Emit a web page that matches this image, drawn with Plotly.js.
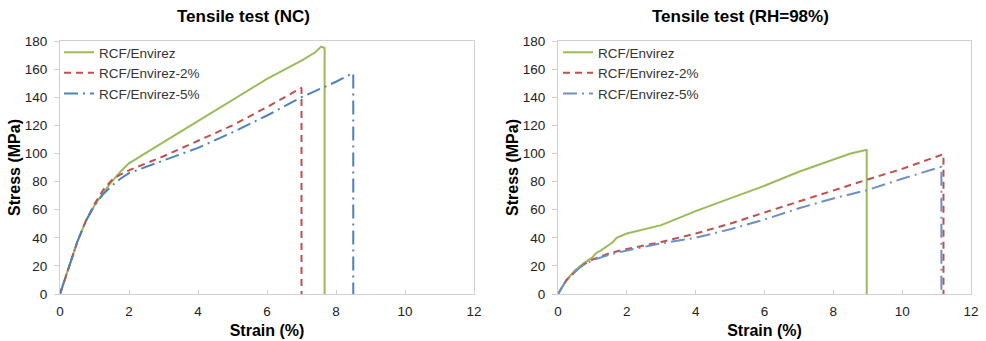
<!DOCTYPE html>
<html>
<head>
<meta charset="utf-8">
<script src="https://cdn.plot.ly/plotly-3.0.1.min.js"></script>
<style>html,body{margin:0;padding:0;background:#fff;}#chart{width:986px;height:341px;}</style>
</head>
<body>
<div id="chart"></div>
<script>
// ---- Data ----
const seriesNames = ["RCF/Envirez", "RCF/Envirez-2%", "RCF/Envirez-5%"];
const panelTitles = ["Tensile test (NC)", "Tensile test (RH=98%)"];
const xTickVals = [0, 2, 4, 6, 8, 10, 12];
const yTickVals = [0, 20, 40, 60, 80, 100, 120, 140, 160, 180];

// NC panel
const ncGreenX = [0,0.25,0.5,0.75,1,1.25,1.5,1.75,2,3,4,5,6,7,7.4,7.57,7.67,7.67];
const ncGreenY = [0,18,37,52,63,72,80,87,93,108,123,138,153,166,172,176,175,0];
const ncRedX = [0,0.25,0.5,0.75,1,1.25,1.5,1.75,2,3,4,5,6,6.5,6.99,7.0,7.0];
const ncRedY = [0,18,37,52,64,74,81,85,88,98,109,120,133,140,146.5,146,0];
const ncBlueX = [0,0.25,0.5,0.75,1,1.25,1.5,1.75,2,3,4,5,6,7,8,8.47,8.5,8.5];
const ncBlueY = [0,18,37,52,63,71,77,82,86,95,104,115,127,140,151,157,157,0];

// RH=98% panel
const rhGreenX = [0,0.25,0.5,0.75,1,1.1,1.25,1.5,1.6,1.7,1.8,2,3,4,5,6,7,8,8.5,8.95,8.97,8.97];
const rhGreenY = [0,10,17,22,26,29,31,35,37,40,41,43,49,59,68,77,87,96,100,102.5,102.5,0];
const rhRedX = [0,0.25,0.5,0.75,1,1.5,2,3,4,5,6,7,8,9,10,11.2,11.2];
const rhRedY = [0,10,16,21,24.5,29,32,37,43,50,58,66,74,81.5,89,99.5,0];
const rhBlueX = [0,0.25,0.5,0.75,1,1.5,2,3,4,5,6,7,8,9,10,11.14,11.14];
const rhBlueY = [0,10,16,21,24,28,31,36,40,46,53,61,68,74,82,90.5,0];

// ---- Styles ----
const green = "#9bbb59", red = "#c0504d", blue = "#4f81bd", blueRH = "#6f8fc4";
const dashRed = "7px,5px";
const dashBlue = "14px,5px,2px,5px";

function tr(x, y, name, color, dash, xa, ya, legend) {
  return {x: x, y: y, name: name, type: "scatter", mode: "lines",
    line: {color: color, width: 2, dash: dash},
    xaxis: xa, yaxis: ya, legend: legend};
}

const data = [
  tr(ncGreenX, ncGreenY, seriesNames[0], green, "solid", "x", "y", "legend"),
  tr(ncRedX, ncRedY, seriesNames[1], red, dashRed, "x", "y", "legend"),
  tr(ncBlueX, ncBlueY, seriesNames[2], blue, dashBlue, "x", "y", "legend"),
  tr(rhGreenX, rhGreenY, seriesNames[0], green, "solid", "x2", "y2", "legend2"),
  tr(rhRedX, rhRedY, seriesNames[1], red, dashRed, "x2", "y2", "legend2"),
  tr(rhBlueX, rhBlueY, seriesNames[2], blueRH, dashBlue, "x2", "y2", "legend2")
];

const W = 986, H = 341;
const fontFam = "Liberation Sans, Arial, sans-serif";
const tickFont = {family: fontFam, size: 13.5, color: "#222"};
const axTitleFont = {family: fontFam, size: 16, color: "#000", weight: "bold"};

function xax(domain, anchor) {
  return {domain: domain, anchor: anchor, range: [0, 12], tickvals: xTickVals,
    showgrid: false, zeroline: false, showline: true, mirror: true, linecolor: "#d0d0d0", linewidth: 1,
    ticks: "inside", ticklen: 4, tickcolor: "#d0d0d0", tickfont: tickFont, ticklabelstandoff: 5,
    title: {text: "Strain (%)", font: axTitleFont, standoff: 6}};
}
function yax(domain, anchor) {
  return {domain: domain, anchor: anchor, range: [0, 180], tickvals: yTickVals,
    showgrid: false, zeroline: false, showline: true, mirror: true, linecolor: "#d0d0d0", linewidth: 1,
    ticks: "outside", ticklen: 5, tickcolor: "#d0d0d0", tickfont: tickFont, ticklabelstandoff: 4,
    title: {text: "Stress (MPa)", font: axTitleFont, standoff: 0}};
}

const yDom = [(H - 294) / H, (H - 41) / H];
const legFont = {family: fontFam, size: 13.5, color: "#333"};
function leg(xpx) {
  return {x: xpx / W, y: (H - 37) / H, xanchor: "left", yanchor: "top", xref: "paper", yref: "paper",
    bgcolor: "rgba(0,0,0,0)", borderwidth: 0, font: legFont, itemwidth: 30, tracegroupgap: 0};
}

const layout = {
  width: W, height: H,
  margin: {l: 0, r: 0, t: 0, b: 0},
  paper_bgcolor: "#fff", plot_bgcolor: "#fff",
  showlegend: true,
  xaxis: xax([60 / W, 474 / W], "y"),
  yaxis: yax(yDom, "x"),
  xaxis2: xax([558 / W, 971 / W], "y2"),
  yaxis2: yax(yDom, "x2"),
  legend: leg(59),
  legend2: leg(558),
  annotations: [
    {text: panelTitles[0], x: 243 / W, y: (H - 17) / H, xref: "paper", yref: "paper",
      xanchor: "center", yanchor: "middle", showarrow: false,
      font: {family: fontFam, size: 17, color: "#000", weight: "bold"}},
    {text: panelTitles[1], x: 740 / W, y: (H - 17) / H, xref: "paper", yref: "paper",
      xanchor: "center", yanchor: "middle", showarrow: false,
      font: {family: fontFam, size: 17, color: "#000", weight: "bold"}}
  ]
};

Plotly.newPlot("chart", data, layout, {displayModeBar: false, staticPlot: true});
</script>
</body>
</html>
